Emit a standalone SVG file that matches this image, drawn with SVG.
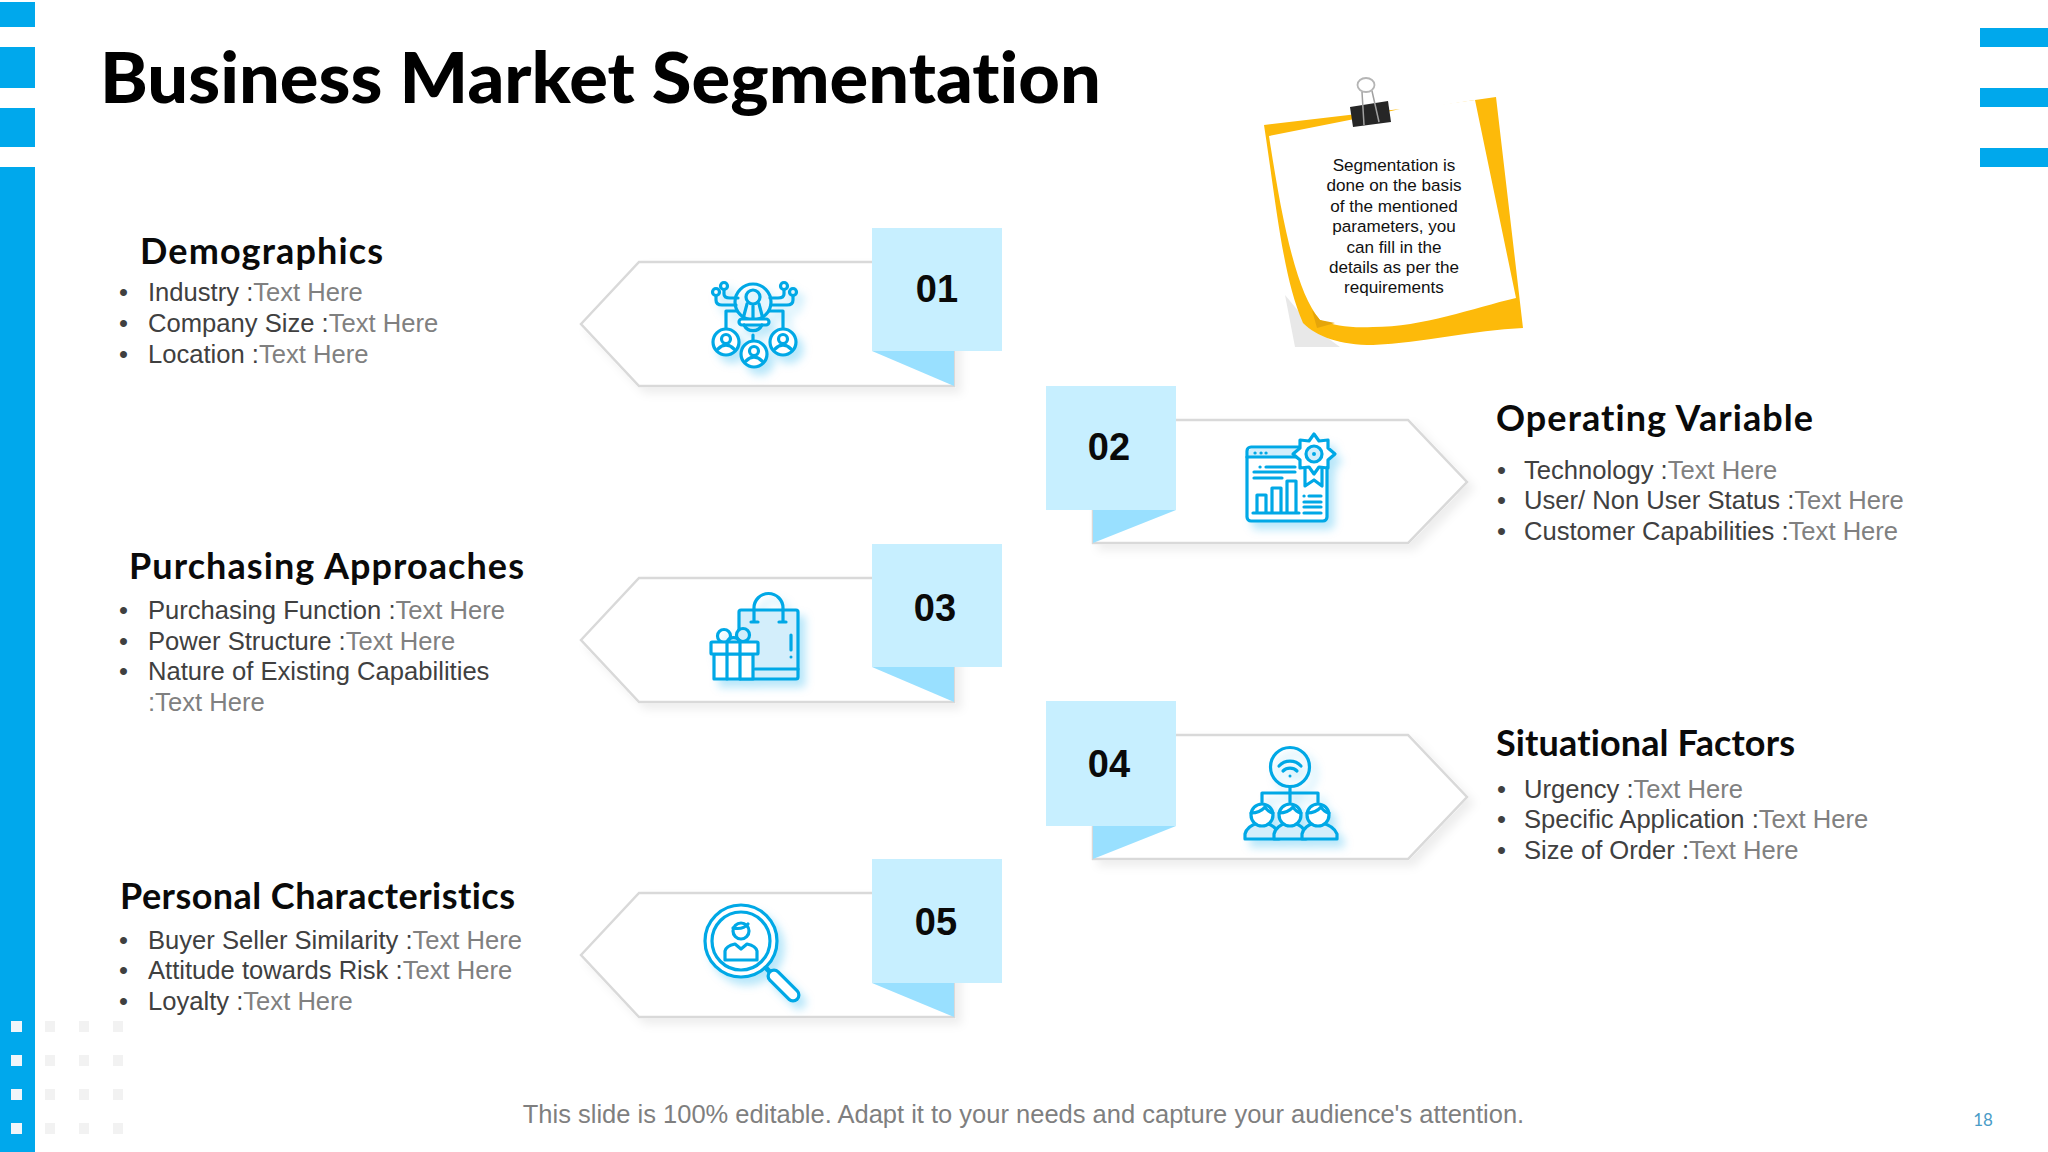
<svg xmlns="http://www.w3.org/2000/svg" xmlns:xlink="http://www.w3.org/1999/xlink" width="2048" height="1152" viewBox="0 0 2048 1152">
<style>
text{font-family:"Liberation Sans",Arial,sans-serif;font-variant-ligatures:none}
.h{font-family:Lato,"Liberation Sans",sans-serif;font-weight:700;font-size:36px;fill:#0a0a0a}
.b{font-size:25.6px;fill:#404040}
.g{fill:#808080}
.n{font-weight:700;font-size:38px;fill:#0a0a0a;text-anchor:middle}
.s{fill:#c7efff}
.f{fill:#99e0ff}
.p{fill:#fff;stroke:#d9d9d9;stroke-width:2.5;filter:url(#ps)}
.i{fill:none;stroke:#00a8e6;stroke-width:3.2;stroke-linecap:round;stroke-linejoin:round;filter:url(#is)}
.i .w{fill:#fff}
.i .l{fill:#d3eefb}
.i .d{fill:#00a8e6;stroke:none}
.t{font-size:17.1px;fill:#111;text-anchor:middle}
.bar{fill:#00a8ec}
.ws{fill:#f0f5fa}
.gs{fill:#f2f2f2}
</style>
<defs>
<filter id="ps" x="-10%" y="-20%" width="125%" height="150%"><feDropShadow dx="6" dy="6" stdDeviation="5" flood-color="#000" flood-opacity=".07"/></filter>
<filter id="is" x="-25%" y="-25%" width="160%" height="160%"><feDropShadow dx="6" dy="7" stdDeviation="4" flood-color="#00a8ec" flood-opacity=".28"/></filter>
</defs>
<rect width="2048" height="1152" fill="#fff"/>
<g id="decor">
<rect class="bar" x="0" y="2" width="35" height="1150"/>
<rect x="0" y="27" width="35" height="20" fill="#fff"/><rect x="0" y="88" width="35" height="20" fill="#fff"/><rect x="0" y="147" width="35" height="20" fill="#fff"/>
<rect class="bar" x="1980" y="28" width="68" height="19"/><rect class="bar" x="1980" y="88" width="68" height="19"/><rect class="bar" x="1980" y="148" width="68" height="19"/>
<g class="ws"><rect x="11" y="1021" width="11" height="11"/><rect x="11" y="1055" width="11" height="11"/><rect x="11" y="1089" width="11" height="11"/><rect x="11" y="1123" width="11" height="11"/></g>
<g class="gs"><rect x="45" y="1021" width="10" height="11"/><rect x="79" y="1021" width="10" height="11"/><rect x="113" y="1021" width="10" height="11"/><rect x="45" y="1055" width="10" height="11"/><rect x="79" y="1055" width="10" height="11"/><rect x="113" y="1055" width="10" height="11"/><rect x="45" y="1089" width="10" height="11"/><rect x="79" y="1089" width="10" height="11"/><rect x="113" y="1089" width="10" height="11"/><rect x="45" y="1123" width="10" height="11"/><rect x="79" y="1123" width="10" height="11"/><rect x="113" y="1123" width="10" height="11"/></g>
</g>
<text id="title" x="100" y="103" textLength="1001" lengthAdjust="spacingAndGlyphs" style="font-family:Lato,'Liberation Sans',sans-serif;font-weight:900;font-size:70px;fill:#000">Business Market Segmentation</text>
<g id="note">
<path d="M1285,295 L1295,347 L1340,347 L1310,325 Z" fill="#e8e8e8"/>
<path d="M1475,100 L1496,97 L1523,328 C1473,330 1423,343 1373,345 C1340,345 1317,337 1303,323 C1283,277 1277,210 1264,125 L1400,109 L1360,118 Z" fill="#fdba0a"/>
<path d="M1269,136 L1400,110 L1475,100 L1516,298 C1473,308 1423,327 1373,327 C1350,328 1335,326 1320,320 C1297,293 1283,227 1269,136 Z" fill="#fff"/>
<path d="M1312,310 L1320,320 L1335,323 L1317,328 Z" fill="#e5a50a"/>
<text class="t"><tspan x="1394" y="171">Segmentation is</tspan><tspan x="1394" y="191.400">done on the basis</tspan><tspan x="1394" y="211.800">of the mentioned</tspan><tspan x="1394" y="232.200">parameters, you</tspan><tspan x="1394" y="252.600">can fill in the</tspan><tspan x="1394" y="273">details as per the</tspan><tspan x="1394" y="293.400">requirements</tspan></text>
<path d="M1350,107 L1388,101 L1391,122 L1353,127 Z" fill="#262626"/>
<ellipse cx="1366" cy="85" rx="8.500" ry="7" fill="none" stroke="#b5b5b5" stroke-width="1.800"/>
<path d="M1362,92 L1364,125 M1372,91 L1379,122" stroke="#a0a0a0" stroke-width="1.500" fill="none"/>
</g>
<g id="node-01">
<polygon class="p" points="581,324 639,262 954,262 954,386 639,386"/>
<g class="i">
<circle cx="753" cy="302" r="18"/><circle cx="753" cy="297" r="7"/>
<path d="M747,304 L743,319 M759,304 L763,319 M753,306 V319"/>
<rect x="739" y="319" width="30" height="6" rx="3" class="w"/>
<path d="M744,325 A10,10 0 0 0 762,325"/>
<path d="M753,335 V341"/>
<path d="M737,311 H726 V329 M769,311 H783 V329"/>
<circle cx="726" cy="342" r="13" class="w"/><circle cx="754" cy="354" r="13" class="w"/><circle cx="783" cy="342" r="13" class="w"/>
<circle cx="726" cy="339" r="4.500"/><circle cx="754" cy="351" r="4.500"/><circle cx="783" cy="339" r="4.500"/>
<path d="M718,349 Q726,341 734,349 M746,361 Q754,353 762,361 M775,349 Q783,341 791,349"/>
<circle cx="716" cy="292" r="3.500"/><circle cx="724" cy="286" r="3.500"/><circle cx="784" cy="286" r="3.500"/><circle cx="793" cy="292" r="3.500"/>
<path d="M716,296 V300 Q716,305 722,305 H736 M724,290 V294 Q724,298 730,298 H738 M784,290 V294 Q784,298 778,298 H770 M793,296 V300 Q793,305 787,305 H771"/>
</g>
<rect class="s" x="872" y="228" width="130" height="123"/>
<polygon class="f" points="872,351 954,351 954,386"/>
<text class="n" x="937" y="302">01</text>
</g>
<g id="node-02">
<polygon class="p" points="1093,420 1408,420 1467,482 1408,543 1093,543"/>
<g class="i">
<rect x="1247" y="447" width="80" height="74" rx="4" class="w"/>
<path d="M1249,457 V451 Q1249,449 1252,449 H1300 V457 Z" class="l" stroke="none"/>
<path d="M1247,457 H1300"/>
<path d="M1255,453 h.1 M1261,453 h.1 M1266,453 h.1 M1260,467 h.1 M1266,467 H1295 M1254,472 H1295 M1254,478 H1282"/>
<path d="M1257,513 V495 H1266 V513 M1272,513 V488 H1281 V513 M1287,513 V481 H1296 V513 M1253,513 H1299"/>
<path d="M1304,496 h.1 M1309,496 H1321 M1304,502 H1321 M1304,507 H1321 M1304,513 H1321"/>
<path d="M1305,467 V486 L1314,480 L1322,486 V467"/>
<polygon class="w" points="1314,434 1319,441 1328,440 1328,448 1335,454 1328,460 1328,468 1319,467 1314,474 1309,467 1300,468 1300,460 1293,454 1300,448 1300,440 1309,441"/>
<circle cx="1314" cy="454" r="8" class="l"/><circle cx="1314" cy="454" r="2" class="d"/>
</g>
<rect class="s" x="1046" y="386" width="130" height="124"/>
<polygon class="f" points="1093,510 1176,510 1093,543"/>
<text class="n" x="1109" y="460">02</text>
</g>
<g id="node-03">
<polygon class="p" points="581,640 639,578 954,578 954,702 639,702"/>
<g class="i">
<rect x="739" y="610" width="59" height="69" rx="2" class="l"/>
<path d="M754,622 V608 A14.500,14.500 0 0 1 783,608 V622 M751,622 H758 M779,622 H786 M755,669 H798 M791,635 V650"/>
<circle cx="791" cy="657" r="1.500" class="d"/>
<circle cx="724" cy="636" r="6.500"/><circle cx="743" cy="635" r="6.500" class="l"/>
<path d="M727,642 A7,7 0 0 1 740,642"/>
<rect x="714" y="654" width="39" height="25" class="w"/>
<rect x="711" y="642" width="47" height="12" rx="1" class="w"/>
<path d="M727,642 V679 M740,642 V679"/>
</g>
<rect class="s" x="872" y="544" width="130" height="123"/>
<polygon class="f" points="872,667 954,667 954,702"/>
<text class="n" x="935" y="621">03</text>
</g>
<g id="node-04">
<polygon class="p" points="1093,735 1408,735 1467,797 1408,859 1093,859"/>
<g class="i">
<circle cx="1290" cy="767" r="19.500"/>
<path d="M1279,766 A15,15 0 0 1 1301,766 M1283,771 A10,10 0 0 1 1297,771"/>
<circle cx="1290" cy="776" r="1.500" class="d"/>
<path d="M1290,787 V802 M1262,802 V793 H1318 V802"/>
<path d="M1245,839 V834 Q1247,826 1258,823 H1266 Q1276,826 1279,834 V839 Z" class="l"/>
<path d="M1274,839 V834 Q1276,826 1286,823 H1294 Q1304,826 1306,834 V839 Z" class="l"/>
<path d="M1302,839 V834 Q1304,826 1314,823 H1322 Q1334,826 1337,834 V839 Z" class="l"/>
<circle cx="1262" cy="815" r="11" class="w"/><circle cx="1290" cy="815" r="11" class="w"/><circle cx="1318" cy="815" r="11" class="w"/>
<path d="M1251,813 Q1260,813 1265,807 Q1268,812 1273,813 M1279,813 Q1288,813 1293,807 Q1296,812 1301,813 M1307,813 Q1316,813 1321,807 Q1324,812 1329,813"/>
</g>
<rect class="s" x="1046" y="701" width="130" height="125"/>
<polygon class="f" points="1093,826 1176,826 1093,859"/>
<text class="n" x="1109" y="777">04</text>
</g>
<g id="node-05">
<polygon class="p" points="581,955 639,893 954,893 954,1017 639,1017"/>
<g class="i">
<circle cx="741" cy="941" r="36" class="w"/><circle cx="741" cy="941" r="29"/>
<circle cx="741" cy="931" r="8"/>
<path d="M733,928 Q743,930 748,924"/>
<path d="M725,960 V951 Q726,946 735,944 L741,949 L747,944 Q756,946 757,951 V960 Z"/>
<path d="M766,968 L772,974" stroke-width="5"/>
<path d="M774,976 L793,995" stroke-width="15"/>
<path d="M774,976 L793,995" stroke="#fff" stroke-width="8.500"/>
</g>
<rect class="s" x="872" y="859" width="130" height="124"/>
<polygon class="f" points="872,983 954,983 954,1017"/>
<text class="n" x="936" y="935">05</text>
</g>
<g id="text-demographics">
<text class="h" x="140" y="264" textLength="243">Demographics</text>
<text class="b"><tspan x="119" y="301">•</tspan><tspan x="148" y="301">Industry :<tspan class="g">Text Here</tspan></tspan><tspan x="119" y="332">•</tspan><tspan x="148" y="332">Company Size :<tspan class="g">Text Here</tspan></tspan><tspan x="119" y="362.500">•</tspan><tspan x="148" y="362.500">Location :<tspan class="g">Text Here</tspan></tspan></text>
</g>
<g id="text-operating">
<text class="h" x="1496" y="431" textLength="317">Operating Variable</text>
<text class="b"><tspan x="1497" y="478.500">•</tspan><tspan x="1524" y="478.500">Technology :<tspan class="g">Text Here</tspan></tspan><tspan x="1497" y="509">•</tspan><tspan x="1524" y="509">User/ Non User Status :<tspan class="g">Text Here</tspan></tspan><tspan x="1497" y="539.500">•</tspan><tspan x="1524" y="539.500">Customer Capabilities :<tspan class="g">Text Here</tspan></tspan></text>
</g>
<g id="text-purchasing">
<text class="h" x="129" y="579" textLength="395">Purchasing Approaches</text>
<text class="b"><tspan x="119" y="618.500">•</tspan><tspan x="148" y="618.500">Purchasing Function :<tspan class="g">Text Here</tspan></tspan><tspan x="119" y="649.500">•</tspan><tspan x="148" y="649.500">Power Structure :<tspan class="g">Text Here</tspan></tspan><tspan x="119" y="680">•</tspan><tspan x="148" y="680">Nature of Existing Capabilities</tspan><tspan class="g" x="148" y="711">:Text Here</tspan></text>
</g>
<g id="text-situational">
<text class="h" x="1496" y="756" textLength="299">Situational Factors</text>
<text class="b"><tspan x="1497" y="797.500">•</tspan><tspan x="1524" y="797.500">Urgency :<tspan class="g">Text Here</tspan></tspan><tspan x="1497" y="828">•</tspan><tspan x="1524" y="828">Specific Application :<tspan class="g">Text Here</tspan></tspan><tspan x="1497" y="858.500">•</tspan><tspan x="1524" y="858.500">Size of Order :<tspan class="g">Text Here</tspan></tspan></text>
</g>
<g id="text-personal">
<text class="h" x="120" y="909" textLength="395">Personal Characteristics</text>
<text class="b"><tspan x="119" y="948.500">•</tspan><tspan x="148" y="948.500">Buyer Seller Similarity :<tspan class="g">Text Here</tspan></tspan><tspan x="119" y="979">•</tspan><tspan x="148" y="979">Attitude towards Risk :<tspan class="g">Text Here</tspan></tspan><tspan x="119" y="1009.500">•</tspan><tspan x="148" y="1009.500">Loyalty :<tspan class="g">Text Here</tspan></tspan></text>
</g>
<text id="footer" x="1023.500" y="1123" text-anchor="middle" style="font-size:25.5px;fill:#7f7f7f">This slide is 100% editable. Adapt it to your needs and capture your audience's attention.</text>
<text id="page" x="1983" y="1126" text-anchor="middle" style="font-family:Lato,sans-serif;font-size:17px;fill:#4a9cc7">18</text>
</svg>
